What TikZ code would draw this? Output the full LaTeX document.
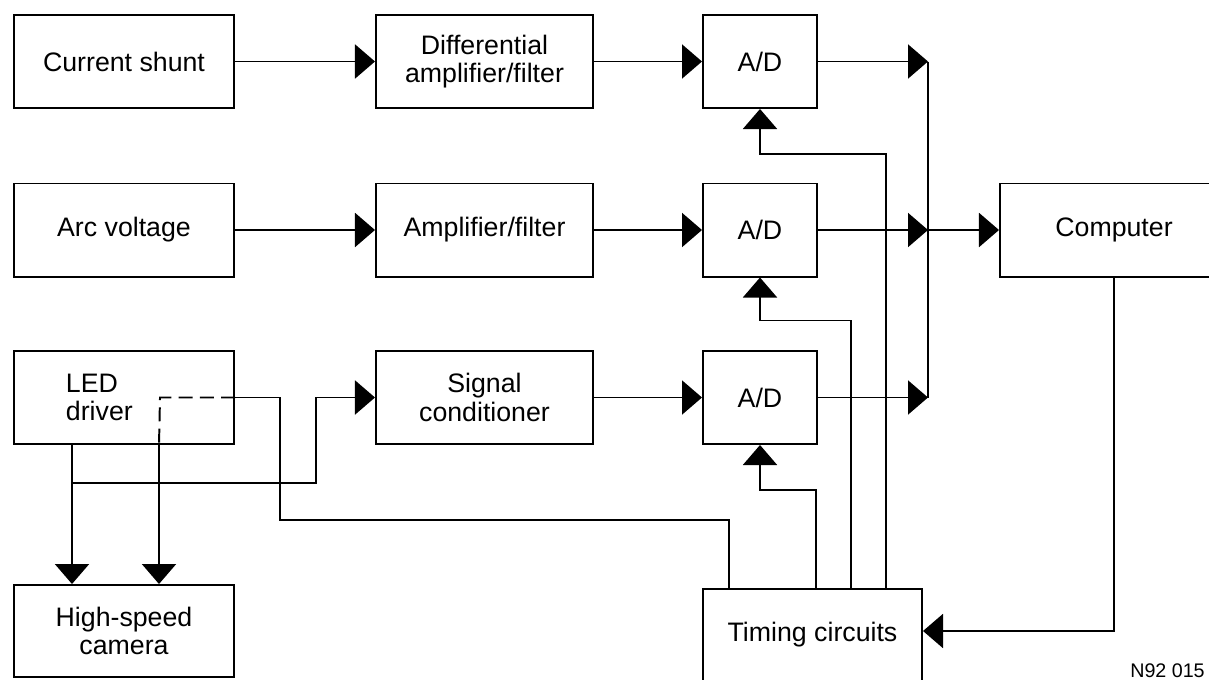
\documentclass[tikz,border=0pt]{standalone}
\usepackage{fontspec}
\setmainfont{Liberation Sans}
\usetikzlibrary{arrows.meta,positioning,calc}

\begin{document}
\begin{tikzpicture}[x=0.025cm,y=-0.025cm,
    font=\fontsize{19pt}{20pt}\selectfont,
    blk/.style={draw,line width=1.4pt,minimum height=2.325cm,align=center,inner sep=2pt},
    wide/.style={blk,minimum width=5.5cm},
    mid/.style={blk,minimum width=5.425cm},
    adc/.style={blk,minimum width=2.85cm},
    wire/.style={line width=1.4pt},
    sig/.style={wire,-{Triangle[length=0.5cm,width=0.85cm]}}]
  \useasboundingbox (0,0) rectangle (1209,679);

  % sources
  \node[wide] (shunt) at (124,61.5) {Current shunt};
  \node[wide] (arc) at (124,230) {Arc voltage};
  \node[wide,align=left,text width=2.9cm,inner xsep=1.3cm] (led) at (124,397.5) {LED\\driver};
  \node[wide,minimum height=2.3cm] (cam) at (124,631) {High-speed\\camera};

  % conditioning
  \node[mid] (diff) at (484.5,61.5) {Differential\\amplifier/filter};
  \node[mid] (amp) at (484.5,230) {Amplifier/filter};
  \node[mid] (cond) at (484.5,397.5) {Signal\\conditioner};

  % converters
  \node[adc] (adA) at (760,61.5) {A/D};
  \node[adc] (adB) at (760,230) {A/D};
  \node[adc] (adC) at (760,397.5) {A/D};

  \node[blk,minimum width=5.7cm] (comp) at (1114,230) {Computer};
  \node[blk,minimum width=5.475cm,minimum height=3.25cm,anchor=north,
        text height=0.5cm,text depth=1.15cm] (timing) at (812.5,588) {Timing circuits};
  \node[anchor=north west,inner sep=0pt,font=\fontsize{14pt}{16pt}\selectfont] (tag) at (1130,663) {N92 015};

  % signal chain
  \draw[sig] (shunt) -- (diff);
  \draw[sig] (arc) -- (amp);
  \draw[sig] (diff) -- (adA);
  \draw[sig] (amp) -- (adB);
  \draw[sig] (cond) -- (adC);

  % output bus
  \coordinate (busA) at (928,61.5);
  \coordinate (busB) at (928,230);
  \coordinate (busC) at (928,397.5);
  \draw[sig] (adA) -- (busA);
  \draw[sig] (adB) -- (busB);
  \draw[sig] (adC) -- (busC);
  \draw[wire] (busA) -- (busC);
  \draw[sig] (busB) -- (comp);
  \draw[sig] (comp.south) |- ([yshift=0.575cm]timing.east);

  % timing to converters
  \draw[sig] ($(timing.north west)+(184,0)$) |- ($(adA.south)+(0,45)$) -- (adA.south);
  \draw[sig] ($(timing.north west)+(149,0)$) |- ($(adB.south)+(0,43)$) -- (adB.south);
  \draw[sig] ($(timing.north west)+(114,0)$) |- ($(adC.south)+(0,45)$) -- (adC.south);

  % timing to camera (behind LED driver)
  \draw[wire] ($(timing.north west)+(27,0)$) |- (280,520) |- (led.east);
  \draw[wire,dash pattern=on 0.35cm off 0.18cm] (led.east) -- ($(led.east)+(-75,0)$) -- ($(led.south)+(35,0)$);
  \draw[sig] ($(led.south)+(35,0)$) -- ($(cam.north)+(35,0)$);

  % LED driver outputs
  \draw[sig] ($(led.south)+(-52,0)$) -- ($(cam.north)+(-52,0)$);
  \draw[sig] ($(led.south)+(-52,38)$) -| ($(cond.west)+(-59,0)$) -- (cond.west);
\end{tikzpicture}
\end{document}
